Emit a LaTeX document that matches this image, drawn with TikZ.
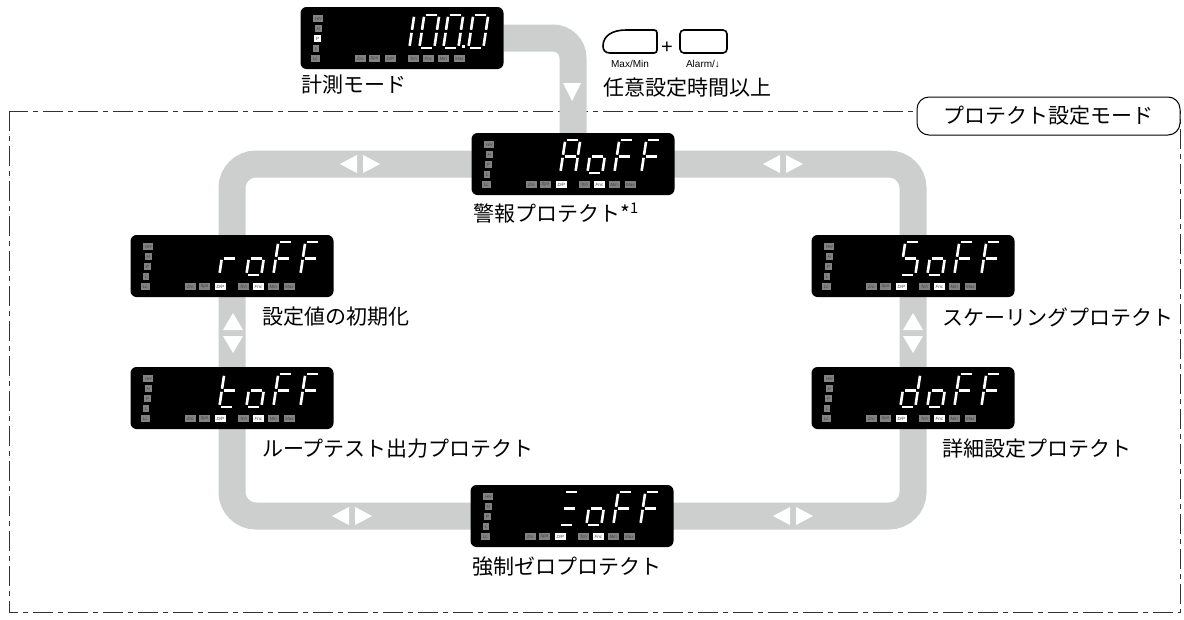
\documentclass[tikz,border=0pt]{standalone}
\usepackage{fontspec}
\usepackage{xstring}
\setmainfont{Noto Sans CJK JP}
\newfontfamily\latinfont{Liberation Sans}
\usetikzlibrary{positioning,backgrounds}
\definecolor{TrackGray}{RGB}{205,206,206}
\definecolor{TagGray}{RGB}{130,130,130}
\definecolor{FrameGray}{RGB}{50,50,50}

% panel: name, centre, lit tag indices, digit cells (x/segments), digit top
\newcommand{\lcdpanel}[5]{%
  \node[lcd] (#1) at (#2) {};
  \begin{scope}[shift={(#1.north west)}]
    \foreach \t/\x/\y/\w [count=\i] in {HH/18/12/10, H/18/22/7, P/17/32/7, L/16/42/6, LL/15/52/9,
        Zro/60/52/11, Spn/74/52/11, {D/P}/90/52/11, Tch/113/52/11, Fnc/128/52/11, Min/143/52/11, Max/159/52/11} {
      \IfSubStr{#3}{,\i,}{\def\tagfill{white}}{\def\tagfill{TagGray}}
      \node[tag, fill=\tagfill, minimum width=\w] (#1-t\i) at (\x,\y) {\t};
    }
    \foreach \p/\segs in {#4} {
      \begin{scope}[shift={(\p,#5)}, xslant=0.15]
        \foreach \g/\ax/\ay/\bx/\by in {a/2/0/13/0, b/15/2/15/15, c/15/18/15/31, d/2/33/13/33,
            e/0/18/0/31, f/0/2/0/15, g/2/16.5/13/16.5} {
          \IfSubStr{\segs}{\g}{\draw[seg] (\ax,\ay) -- (\bx,\by);}{}
        }
      \end{scope}
    }
  \end{scope}
}

\begin{document}
\begin{tikzpicture}[x=1pt, y=-1pt,
    lcd/.style={fill=black, rounded corners=6, minimum width=203, minimum height=62, inner sep=0},
    tag/.style={inner sep=0, minimum height=7, text=black!75, font={\latinfont\itshape\fontsize{4.5}{5}\selectfont}},
    seg/.style={draw=white, line width=2.6},
    track/.style={draw=TrackGray, line width=27, rounded corners=24},
    frame/.style={draw=FrameGray, line width=1, dash pattern=on 20 off 5 on 5 off 5},
    lbl/.style={anchor=west, inner sep=0, font=\fontsize{21}{25}\selectfont},
    modebox/.style={draw, fill=white, line width=1, rounded corners=12, minimum width=263, minimum height=38, font=\fontsize{21}{25}\selectfont},
    btn/.style={draw, line width=1.6},
    btnlbl/.style={inner sep=0, font={\latinfont\fontsize{10}{11}\selectfont}},
    lrmark/.pic={\fill[white] (-3,-9) -- (-20,0) -- (-3,9) -- cycle;
                 \fill[white] (3,-9) -- (20,0) -- (3,9) -- cycle;},
    udmark/.pic={\fill[white] (-10,-3) -- (0,-20) -- (10,-3) -- cycle;
                 \fill[white] (-10,3) -- (0,20) -- (10,3) -- cycle;},
    dnmark/.pic={\fill[white] (-9,-9) -- (9,-9) -- (0,9) -- cycle;}]
  \useasboundingbox (0,0) rectangle (1184,619);

  % displays
  \lcdpanel{measure}{402,38}{,3,}{99/bc, 124/abcdef, 148/abcdef, 173/abcdef}{8}
  \begin{scope}[shift={(measure.north west)}]
    \fill[white] (162,38) rectangle (165,41);
  \end{scope}
  \lcdpanel{alarm}{573,164}{,8,10,}{94/abcefg, 121/cdeg, 148/aefg, 175/aefg}{7}
  \lcdpanel{init}{232,266}{,8,10,}{94/eg, 121/cdeg, 148/aefg, 175/aefg}{7}
  \lcdpanel{loop}{232,398}{,8,10,}{94/defg, 121/cdeg, 148/aefg, 175/aefg}{7}
  \lcdpanel{scaling}{913,266}{,8,10,}{94/acdfg, 121/cdeg, 148/aefg, 175/aefg}{7}
  \lcdpanel{detail}{913,398}{,8,10,}{94/bcdeg, 121/cdeg, 148/aefg, 175/aefg}{7}
  \lcdpanel{zero}{572,516}{,8,10,}{94/adg, 121/cdeg, 148/aefg, 175/aefg}{7}

  % gray loop and entry
  \begin{scope}[on background layer]
    \draw[frame] (9,111) rectangle (1180,612);
    \draw[track] (alarm.center) -- (scaling |- alarm) -- (scaling.center) -- (detail.center)
      -- (detail |- zero) -- (zero.center) -- (loop |- zero) -- (loop.center)
      -- (init.center) -- (init |- alarm) -- cycle;
    \draw[track, rounded corners=20] (measure.east) -| (alarm.center);
    \pic at (360,164) {lrmark};
    \pic at (783,164) {lrmark};
    \pic at (352,516) {lrmark};
    \pic at (793,516) {lrmark};
    \pic at (233,333) {udmark};
    \pic at (913,333) {udmark};
    \pic at (572,92) {dnmark};
  \end{scope}

  % key combination
  \draw[btn] (626,30) -- (654,30) .. controls (656,30) and (657,31) .. (657,33) -- (657,50)
    .. controls (657,52) and (656,53) .. (654,53) -- (610,53)
    .. controls (605,53) and (603,50) .. (603,46) .. controls (603,36) and (612,30) .. (626,30) -- cycle;
  \draw[btn, rounded corners=4] (680,30) rectangle (727,53);
  \node[inner sep=0, font={\latinfont\fontsize{20}{20}\selectfont}] (plus) at (667,48) {+};
  \node[btnlbl] (maxmin) at (630,64) {Max/Min};
  \node[btnlbl] (alarmkey) at (703,64) {Alarm/↓};
  \node[lbl] (holdlbl) at (603,88) {任意設定時間以上};

  % labels
  \node[lbl] (measurelbl) at (301,85) {計測モード};
  \node[lbl] (alarmlbl) at (473,213) {警報プロテクト*\textsuperscript{1}};
  \node[lbl] (initlbl) at (262,317) {設定値の初期化};
  \node[lbl] (looplbl) at (262,449) {ループテスト出力プロテクト};
  \node[lbl] (scalinglbl) at (942,317) {スケーリングプロテクト};
  \node[lbl] (detaillbl) at (942,449) {詳細設定プロテクト};
  \node[lbl] (zerolbl) at (472,567) {強制ゼロプロテクト};
  \node[modebox] (modelbl) at (1048.5,116) {プロテクト設定モード};
\end{tikzpicture}
\end{document}
